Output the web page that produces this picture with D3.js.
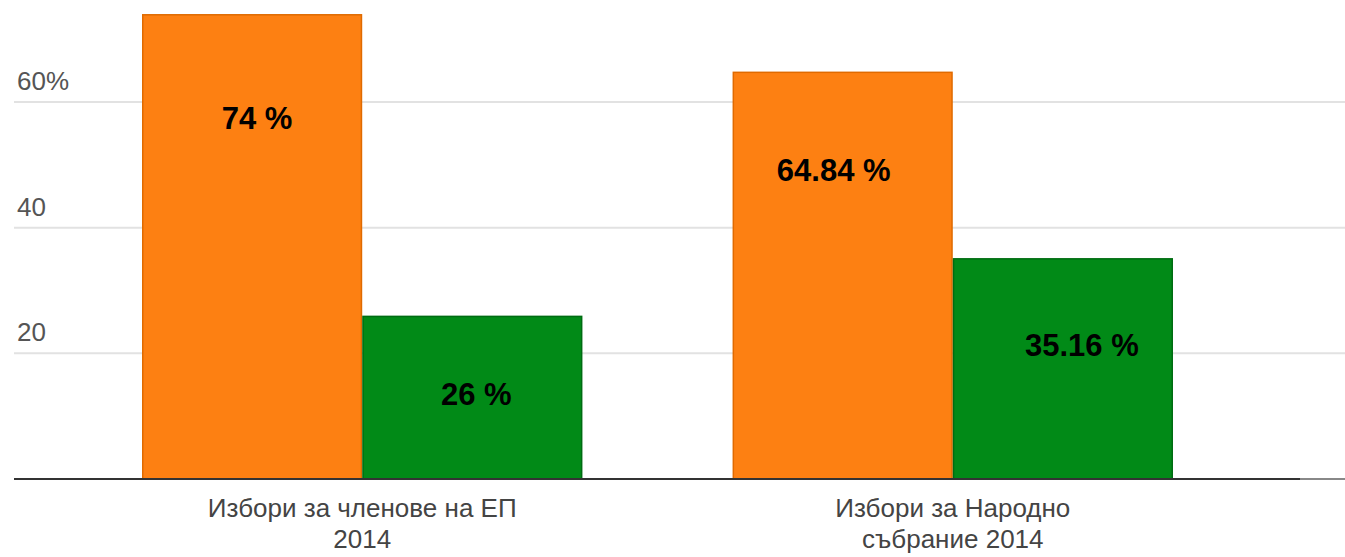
<!DOCTYPE html>
<html>
<head>
<meta charset="utf-8">
<script src="https://cdn.jsdelivr.net/npm/d3@7"></script>
<style>
  html, body { margin: 0; padding: 0; background: #fff; }
  svg { display: block; font-family: Arial, "Liberation Sans", sans-serif; }
</style>
</head>
<body>
<div class="chart-container"></div>
<script>
'use strict';

var categories = [
  ['Избори за членове на ЕП', '2014'],
  ['Избори за Народно', 'събрание 2014']
];
var seriesNames = ['yes', 'no'];
var yesValues = [74, 64.84];
var noValues = [26, 35.16];
var valueLabels = [['74 %', '26 %'], ['64.84 %', '35.16 %']];
var yTicks = [20, 40, 60];
var yTickLabels = ['20', '40', '60%'];

// label nudges (px) relative to bar top / bar centre, per group & series
var labelNudge = [
  [{dx: 5, dy: 115}, {dx: 4, dy: 89}],
  [{dx: -9, dy: 109}, {dx: 19, dy: 98}]
];

var colors = { yes: '#fd8012', no: '#018a17' };
var strokes = { yes: '#e06a00', no: '#006c12' };

var width = 1345, height = 557;

var svg = d3.select('.chart-container').append('svg')
  .attr('width', width)
  .attr('height', height);

var y = d3.scaleLinear().domain([0, 60]).range([479, 102]);

var x0 = d3.scaleBand()
  .domain(d3.range(categories.length))
  .range([67, 1248])
  .paddingInner(150 / 590)
  .paddingOuter(0.127);

var x1 = d3.scaleBand()
  .domain(seriesNames)
  .range([0, x0.bandwidth()])
  .padding(0);

// gridlines
svg.append('g')
  .selectAll('line')
  .data(yTicks)
  .enter()
  .append('line')
  .attr('x1', 14)
  .attr('x2', width)
  .attr('y1', function(d) { return y(d); })
  .attr('y2', function(d) { return y(d); })
  .attr('stroke', '#e2e2e2')
  .attr('stroke-width', 2);

svg.append('g')
  .selectAll('text')
  .data(yTicks)
  .enter()
  .append('text')
  .attr('x', 17)
  .attr('y', function(d) { return y(d) - 12; })
  .attr('fill', '#555')
  .attr('font-size', 26)
  .text(function(d, i) { return yTickLabels[i]; });

var rows = categories.map(function(c, i) {
  return [
    { group: i, key: 'yes', value: yesValues[i] },
    { group: i, key: 'no', value: noValues[i] }
  ];
});

var groups = svg.append('g')
  .selectAll('g')
  .data(rows)
  .enter()
  .append('g')
  .attr('transform', function(d, i) { return 'translate(' + x0(i) + ',0)'; });

groups.selectAll('rect')
  .data(function(d) { return d; })
  .enter()
  .append('rect')
  .attr('x', function(d) { return x1(d.key) + 0.75; })
  .attr('y', function(d) { return y(d.value) + 0.75; })
  .attr('width', x1.bandwidth() - 1.5)
  .attr('height', function(d) { return y(0) - y(d.value) - 0.75; })
  .attr('fill', function(d) { return colors[d.key]; })
  .attr('stroke', function(d) { return strokes[d.key]; })
  .attr('stroke-width', 1.5);

groups.selectAll('text')
  .data(function(d) { return d; })
  .enter()
  .append('text')
  .attr('x', function(d, i) {
    return x1(d.key) + x1.bandwidth() / 2 + labelNudge[d.group][i].dx;
  })
  .attr('y', function(d, i) { return y(d.value) + labelNudge[d.group][i].dy; })
  .attr('text-anchor', 'middle')
  .attr('font-size', 31)
  .attr('font-weight', 'bold')
  .attr('fill', '#000')
  .text(function(d, i) { return valueLabels[d.group][i]; });

// baseline
svg.append('line')
  .attr('x1', 14).attr('x2', 1300)
  .attr('y1', y(0)).attr('y2', y(0))
  .attr('stroke', '#333')
  .attr('stroke-width', 2);
svg.append('line')
  .attr('x1', 1300).attr('x2', width)
  .attr('y1', y(0)).attr('y2', y(0))
  .attr('stroke', '#888')
  .attr('stroke-width', 2);

// category labels
var catLabels = svg.append('g')
  .selectAll('text')
  .data(categories)
  .enter()
  .append('text')
  .attr('text-anchor', 'middle')
  .attr('font-size', 26)
  .attr('fill', '#444')
  .attr('transform', function(d, i) {
    return 'translate(' + (x0(i) + x0.bandwidth() / 2) + ',0)';
  });

catLabels.selectAll('tspan')
  .data(function(d) { return d; })
  .enter()
  .append('tspan')
  .attr('x', 0)
  .attr('y', function(d, i) { return 517 + i * 31; })
  .text(function(d) { return d; });
</script>
</body>
</html>
